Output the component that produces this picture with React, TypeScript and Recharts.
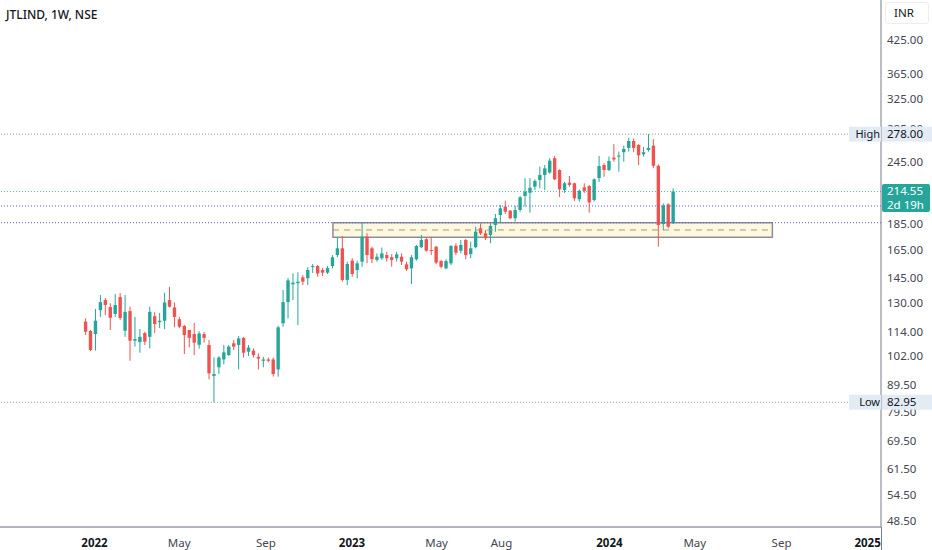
import React from "react";
import { ComposedChart, Bar, XAxis, YAxis, ReferenceLine, ReferenceArea } from "recharts";

// weekly candles, first bar week of 2021-12-20
const firstWeek = "2021-12-20";

const opens = [
  119.3, 114.4, 112.8, 125.7, 131.5, 127.4, 123.5, 133.3, 114.5, 125.1,
  109.5, 108.8, 113.3, 111.4, 122.3, 119.0, 119.8, 131.5, 127.2, 120.6,
  117.0, 114.9, 112.8, 107.5, 112.8, 107.4, 93.4, 97.1, 100.6, 102.6,
  108.2, 107.4, 110.9, 104.2, 104.7, 101.8, 100.0, 100.6, 100.6, 96.2,
  118.4, 130.3, 141.2, 141.9, 145.7, 145.1, 152.6, 153.3, 150.6, 148.8,
  153.3, 161.1, 166.1, 144.0, 157.1, 150.6, 156.4, 175.0, 166.1, 157.6,
  158.8, 161.1, 159.5, 158.8, 159.9, 154.5, 151.7, 158.1, 166.9, 173.0,
  164.8, 167.3, 156.8, 151.7, 155.2, 168.0, 164.3, 172.4, 161.8, 166.9,
  181.8, 177.7, 176.4, 184.5, 193.0, 200.4, 196.8, 190.2, 197.4, 210.3,
  213.4, 219.3, 226.0, 231.2, 233.8, 249.4, 236.4, 216.0, 223.3, 222.7,
  207.2, 218.6, 219.9, 206.5, 228.0, 241.8, 236.4, 249.9, 251.2, 256.2,
  261.2, 269.5, 264.7, 253.8, 258.8, 263.9, 241.0, 185.3, 202.5, 186.1,
];

const highs = [
  121.1, 114.9, 126.3, 134.5, 132.7, 129.7, 135.1, 135.8, 134.5, 127.6,
  121.8, 115.4, 114.0, 127.6, 124.5, 124.1, 136.0, 139.6, 130.1, 121.9,
  117.5, 114.9, 118.6, 114.2, 113.9, 109.8, 101.5, 102.1, 107.4, 107.4,
  109.8, 111.8, 111.4, 107.4, 105.8, 103.4, 101.8, 101.5, 101.5, 117.0,
  137.6, 145.3, 148.3, 149.0, 147.2, 152.4, 154.7, 154.0, 151.9, 153.3,
  161.1, 174.5, 175.6, 156.4, 158.8, 157.1, 186.4, 177.8, 167.3, 162.3,
  166.6, 163.5, 161.8, 163.5, 162.3, 156.4, 161.1, 168.6, 176.4, 174.5,
  174.5, 167.8, 157.6, 158.1, 168.6, 169.9, 172.4, 173.2, 171.1, 183.1,
  185.9, 180.4, 185.9, 193.9, 201.9, 205.9, 197.4, 201.0, 210.2, 227.8,
  227.8, 226.7, 240.0, 241.8, 249.4, 252.0, 237.2, 224.3, 230.2, 223.3,
  216.6, 222.7, 221.0, 227.8, 251.9, 243.6, 251.3, 265.7, 256.8, 264.0,
  273.4, 272.6, 265.7, 262.4, 278.0, 271.7, 242.5, 203.4, 203.4, 217.7,
];

const lows = [
  112.3, 104.5, 104.7, 121.9, 122.9, 114.9, 121.8, 120.2, 111.4, 100.0,
  106.6, 103.7, 107.4, 105.8, 113.3, 115.9, 115.3, 127.2, 116.3, 115.8,
  103.1, 106.3, 102.6, 105.6, 108.5, 92.0, 82.95, 94.2, 98.4, 102.2,
  105.0, 96.2, 101.5, 102.2, 101.5, 96.2, 97.1, 99.3, 93.1, 93.1,
  116.6, 121.1, 131.5, 117.5, 140.7, 140.7, 148.6, 146.1, 146.5, 147.9,
  151.7, 159.5, 142.9, 140.7, 146.1, 145.1, 152.8, 155.3, 155.3, 156.4,
  157.6, 156.4, 152.8, 156.4, 154.0, 150.1, 141.4, 157.1, 166.1, 163.5,
  161.1, 154.7, 151.7, 151.1, 154.0, 161.1, 162.3, 158.1, 158.8, 166.1,
  176.4, 172.4, 169.9, 179.0, 186.4, 193.9, 189.3, 187.3, 195.9, 200.4,
  195.0, 216.0, 217.7, 216.0, 232.4, 226.0, 209.4, 213.2, 219.3, 205.8,
  205.0, 213.1, 195.0, 205.0, 224.0, 229.3, 235.2, 245.5, 234.6, 245.5,
  256.8, 256.2, 241.8, 251.2, 256.8, 238.7, 167.3, 180.4, 181.8, 185.3,
];

const closes = [
  114.0, 105.0, 119.8, 130.3, 128.6, 121.4, 128.6, 121.3, 124.7, 109.5,
  110.3, 111.4, 109.0, 124.7, 118.0, 119.8, 130.1, 127.6, 121.9, 116.6,
  112.3, 110.9, 108.5, 113.1, 110.9, 94.5, 94.2, 101.5, 103.9, 106.6,
  106.6, 110.6, 103.7, 106.1, 102.6, 101.0, 100.6, 100.0, 94.2, 116.3,
  130.3, 143.7, 142.2, 142.9, 142.9, 150.6, 153.3, 148.3, 148.8, 151.9,
  159.5, 166.1, 144.0, 154.7, 147.9, 155.2, 175.0, 161.1, 158.1, 159.9,
  162.3, 158.8, 157.6, 161.6, 156.4, 151.1, 159.5, 167.8, 172.4, 164.3,
  164.1, 155.7, 152.8, 156.8, 167.8, 162.8, 168.6, 161.1, 166.1, 179.0,
  177.7, 173.8, 183.7, 190.2, 198.9, 195.9, 190.2, 197.4, 209.0, 214.4,
  218.2, 225.0, 231.2, 238.2, 246.6, 226.7, 216.7, 222.7, 221.0, 208.1,
  215.3, 215.3, 204.3, 226.7, 240.7, 236.4, 246.3, 248.0, 252.3, 260.0,
  269.5, 261.2, 252.6, 256.2, 261.2, 241.0, 184.5, 201.5, 183.1, 214.55,
];

const yTicks = [48.5, 54.5, 61.5, 69.5, 79.5, 89.5, 102, 114, 130, 145, 165, 185, 245, 285, 325, 365, 425];

const xTickDates = ["2022-01-01", "2022-05-01", "2022-09-01", "2023-01-01", "2023-05-01", "2023-08-01", "2024-01-01", "2024-05-01", "2024-09-01", "2025-01-01"];
const xTickLabels = ["2022", "May", "Sep", "2023", "May", "Aug", "2024", "May", "Sep", "2025"];

// drawn levels
const highLevel = 278.0;
const lowLevel = 82.95;
const lastPrice = 214.55;
const countdown = "2d 19h";
const lineLevels = [201.0, 186.4];
const zone = { from: "2022-12-05", to: "2024-08-19", top: 186.4, bottom: 174.5, mid: 180.4 };

const UP = "#26a69a";
const DOWN = "#ef5350";
const TAG_BG = "#e3ebf5";
const FONT = "'Noto Sans', 'Liberation Sans', sans-serif";

const WEEK = 7 * 24 * 3600 * 1000;
const day = (s: string) => Date.parse(s + "T00:00:00Z");

const candles = opens.map((o, i) => ({
  t: day(firstWeek) + i * WEEK,
  open: o,
  high: highs[i],
  low: lows[i],
  close: closes[i],
  range: [lows[i], highs[i]],
}));

const xTicks = xTickDates.map(day);
// price-scale tags go last so they are painted over the plain ticks
const axisTicks = [...yTicks, lowLevel, highLevel, lastPrice];

function Candle(props: any) {
  const { x, y, width, height, payload } = props;
  if (x == null || y == null || !payload) return null;
  const top = Math.min(y, y + height);
  const h = Math.abs(height);
  const cx = x + width / 2;
  const lh = Math.log(payload.high);
  const ll = Math.log(payload.low);
  const span = lh - ll || 1;
  const at = (p: number) => top + ((lh - Math.log(p)) / span) * h;
  const color = payload.close >= payload.open ? UP : DOWN;
  const yo = at(payload.open);
  const yc = at(payload.close);
  return (
    <g>
      <line x1={cx} x2={cx} y1={top} y2={top + h} stroke={color} strokeWidth={1} />
      <rect x={cx - 1.7} y={Math.min(yo, yc)} width={3.4} height={Math.max(1, Math.abs(yo - yc))} fill={color} />
    </g>
  );
}

function XTick(props: any) {
  const { x, y, payload } = props;
  const idx = xTicks.indexOf(payload.value);
  const label = xTickLabels[idx] ?? "";
  const major = /^\d{4}$/.test(label);
  return (
    <g>
      <defs>
        <clipPath id={`xclip-${idx}`}>
          <rect x={0} y={0} width={881} height={550} />
        </clipPath>
      </defs>
      <text
        x={x}
        y={y + 12}
        textAnchor="middle"
        fontFamily={FONT}
        fontSize={11.5}
        fontWeight={major ? 700 : 400}
        fill={major ? "#131722" : "#434651"}
        clipPath={`url(#xclip-${idx})`}
      >
        {label}
      </text>
    </g>
  );
}

function YTick(props: any) {
  const { x, y, payload } = props;
  const v = Number(payload.value);
  const left = x - 5;
  if (v === lastPrice) {
    return (
      <g>
        <rect x={left} y={y - 7.5} width={48} height={28} rx={2} fill={UP} />
        <text x={x} y={y + 3.5} fontFamily={FONT} fontSize={11.5} fill="#ffffff">
          {v.toFixed(2)}
        </text>
        <text x={x} y={y + 17.5} fontFamily={FONT} fontSize={11.5} fill="#ffffff">
          {countdown}
        </text>
      </g>
    );
  }
  if (v === highLevel || v === lowLevel) {
    const name = v === highLevel ? "High" : "Low";
    return (
      <g>
        <rect x={left - 33} y={y - 7.5} width={32} height={15} fill={TAG_BG} />
        <text x={left - 2} y={y + 4} textAnchor="end" fontFamily={FONT} fontSize={11} fill="#131722">
          {name}
        </text>
        <rect x={left} y={y - 7.5} width={51} height={15} fill={TAG_BG} />
        <text x={x} y={y + 4} fontFamily={FONT} fontSize={11.5} fill="#131722">
          {v.toFixed(2)}
        </text>
      </g>
    );
  }
  return (
    <text x={x} y={y + 4} fontFamily={FONT} fontSize={11.5} fill="#434651">
      {v.toFixed(2)}
    </text>
  );
}

export default function App() {
  return (
    <div style={{ position: "relative", width: 932, height: 550, background: "#ffffff" }}>
      <style>{`body{margin:0}`}</style>
      <ComposedChart width={932} height={550} data={candles} margin={{ top: 0, right: 0, bottom: 0, left: 0 }}>
        <XAxis
          dataKey="t"
          type="number"
          domain={[day("2021-08-20"), day("2025-01-20")]}
          allowDataOverflow
          ticks={xTicks}
          tick={<XTick />}
          tickLine={false}
          axisLine={{ stroke: "#9a9da6", strokeWidth: 1.5 }}
          height={23}
          interval={0}
        />
        <YAxis
          orientation="right"
          scale="log"
          domain={[47.25, 509]}
          allowDataOverflow
          ticks={axisTicks}
          tick={<YTick />}
          tickLine={false}
          tickSize={0}
          tickMargin={6}
          axisLine={{ stroke: "#7a7d86" }}
          width={51}
          interval={0}
        />
        <ReferenceArea
          x1={day(zone.from)}
          x2={day(zone.to)}
          y1={zone.bottom}
          y2={zone.top}
          fill="#fff3cc"
          fillOpacity={0.6}
          stroke="#8d8f98"
          strokeWidth={1.5}
        />
        <ReferenceLine
          segment={[
            { x: day(zone.from), y: zone.mid },
            { x: day(zone.to), y: zone.mid },
          ]}
          stroke="#a39777"
          strokeDasharray="6 5"
        />
        <ReferenceLine y={highLevel} stroke="#9598a1" strokeDasharray="1 2" />
        <ReferenceLine y={lowLevel} stroke="#9598a1" strokeDasharray="1 2" />
        {lineLevels.map((v) => (
          <ReferenceLine key={v} y={v} stroke="#5b5fc7" strokeDasharray="1 2" />
        ))}
        <ReferenceLine y={lastPrice} stroke={UP} strokeOpacity={0.8} strokeDasharray="1 2" />
        <Bar dataKey="range" barSize={4} shape={<Candle />} isAnimationActive={false} />
      </ComposedChart>
      <div style={{ position: "absolute", left: 881, top: 527, width: 1, height: 23, background: "#7a7d86" }} />
      <div
        style={{
          position: "absolute",
          left: 6,
          top: 6,
          fontFamily: FONT,
          fontSize: 12,
          fontWeight: 500,
          color: "#131722",
        }}
      >
        JTLIND, 1W, NSE
      </div>
      <div
        style={{
          position: "absolute",
          left: 885,
          top: 2,
          width: 44,
          height: 22,
          border: "1px solid #eceef2",
          borderRadius: 3,
          boxSizing: "border-box",
          fontFamily: FONT,
          fontSize: 11.5,
          color: "#131722",
          lineHeight: "20px",
          paddingLeft: 8,
        }}
      >
        INR
      </div>
    </div>
  );
}
